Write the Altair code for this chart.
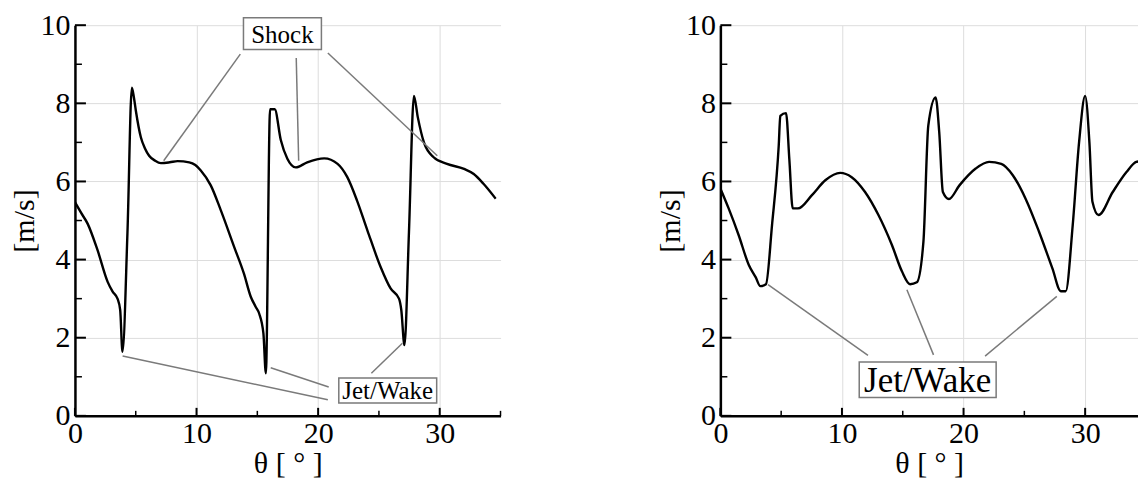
import altair as alt
import pandas as pd

# ---- left panel curve ----
L_THETA = [0, 0.5, 1.04, 1.86, 2.69, 3.1, 3.5, 3.72, 3.91, 4.32, 4.68, 4.85, 5.01, 5.42,
           5.75, 6.1, 6.6, 7.07, 7.8, 8.44, 9.4, 9.9, 10.35, 11.17, 12.0, 13.1, 13.9,
           14.46, 14.85, 15.15, 15.5, 15.7, 16.05, 16.43, 16.93, 17.47, 18.16, 19.1,
           20.5, 21.6, 22.4, 23.2, 24.05, 25.14, 25.96, 26.65, 26.84, 27.1, 27.47,
           27.88, 28.2, 28.7, 29.5, 30.6, 32.0, 32.8, 33.6, 34.6]
L_V = [5.47, 5.2, 4.92, 4.24, 3.43, 3.18, 3.0, 2.71, 1.64, 4.7, 8.40, 8.15, 7.81, 7.13,
       6.85, 6.66, 6.53, 6.47, 6.49, 6.52, 6.49, 6.42, 6.28, 5.9, 5.26, 4.32, 3.64,
       3.05, 2.8, 2.62, 2.11, 1.09, 7.85, 7.85, 7.06, 6.58, 6.36, 6.49,
       6.59, 6.45, 6.11, 5.51, 4.75, 3.81, 3.26, 3.0, 2.71, 1.81, 4.7,
       8.19, 7.64, 7.0, 6.62, 6.45, 6.32, 6.19, 5.94, 5.56]

# ---- right panel curve ----
R_THETA = [0, 0.68, 1.5, 2.33, 2.9, 3.29, 3.75, 4.25, 4.8, 4.93, 5.4, 5.67, 5.95, 6.38,
           7.53, 8.63, 9.86, 10.8, 11.9, 13.0, 14.1, 14.93, 15.6, 16.16, 16.7, 17.1,
           17.7, 18.0, 18.3, 18.8, 19.66, 21.0, 22.1, 23.1, 24.05, 25.1, 26.2, 27.3,
           28.0, 28.4, 28.98, 29.5, 30.0, 30.35, 30.6, 31.1, 32.27, 33.4, 34.2, 35.0]
R_V = [5.82, 5.31, 4.63, 3.87, 3.55, 3.32, 3.37, 4.89, 6.92, 7.68, 7.75, 6.58, 5.31, 5.31,
       5.65, 6.03, 6.22, 6.11, 5.73, 5.14, 4.38, 3.7, 3.37, 3.42, 4.46, 7.43,
       8.15, 7.26, 5.73, 5.55, 5.9, 6.33, 6.5, 6.45, 6.16, 5.56, 4.72, 3.78,
       3.19, 3.19, 4.89, 7.0, 8.19, 7.0, 5.48, 5.14, 5.73, 6.24, 6.5, 6.54]

# ---- axis ticks ----
X_MAJOR = [0, 10, 20, 30]
X_MINOR = [5, 15, 25, 35]
Y_MAJOR = [0, 2, 4, 6, 8, 10]
Y_MINOR = [1, 3, 5, 7, 9]

# ---- annotations (data coordinates) ----
L_SHOCK_X1 = [13.6, 18.2, 20.8]
L_SHOCK_Y1 = [9.26, 9.16, 9.29]
L_SHOCK_X2 = [7.3, 18.4, 29.8]
L_SHOCK_Y2 = [6.53, 6.53, 6.66]
L_JET_X1 = [3.92, 16.1, 26.93]
L_JET_Y1 = [1.53, 1.23, 1.86]
L_JET_X2 = [20.8, 20.87, 24.38]
L_JET_Y2 = [0.41, 0.74, 1.09]
R_JET_X1 = [3.92, 15.34, 27.67]
R_JET_Y1 = [3.36, 3.23, 3.06]
R_JET_X2 = [12.14, 17.53, 21.77]
R_JET_Y2 = [1.55, 1.56, 1.53]

L_BOX_LABELS = ["Shock", "Jet/Wake"]
L_BOX_X = [13.86, 21.7]
L_BOX_X2 = [20.27, 29.75]
L_BOX_Y = [9.38, 0.33]
L_BOX_Y2 = [10.19, 0.97]
R_BOX_LABELS = ["Jet/Wake"]
R_BOX_X = [11.42]
R_BOX_X2 = [22.68]
R_BOX_Y = [0.47]
R_BOX_Y2 = [1.38]

PX_PER_DEG = 12.17
WL, WR, H = 426, 418, 391
FONT = "Liberation Serif, Times New Roman, DejaVu Serif, serif"
ys = alt.Scale(domain=[0, 10], nice=False)

XAXIS = alt.Axis(
    values=X_MAJOR, title="θ [ ° ]", grid=True, ticks=False,
    labelFont=FONT, labelFontSize=30, labelPadding=3, labelFlush=False,
    labelColor="black", titleFont=FONT, titleFontSize=30,
    titleFontWeight="normal", titleColor="black", titlePadding=0,
    domainColor="black", domainWidth=2.5, gridColor="#dddddd", format="d")
YAXIS = alt.Axis(
    values=Y_MAJOR, title="[m/s]", grid=True, ticks=False,
    labelFont=FONT, labelFontSize=30, labelPadding=5, labelFlush=False,
    labelColor="black", titleFont=FONT, titleFontSize=30,
    titleFontWeight="normal", titleColor="black", titlePadding=0,
    domainColor="black", domainWidth=2.5, gridColor="#dddddd", format="d")


def panel(theta, v, lx1, ly1, lx2, ly2, labels, bx, bx2, by, by2, fsize, width):
    xs = alt.Scale(domain=[0, width / PX_PER_DEG], nice=False, zero=False)

    def X(f):
        return alt.X(f, type="quantitative", scale=xs, axis=XAXIS)

    def Y(f):
        return alt.Y(f, type="quantitative", scale=ys, axis=YAXIS)

    curve = pd.DataFrame({"t": theta, "v": v, "i": range(len(theta))})
    base_line = alt.Chart(curve).mark_line(color="black", strokeWidth=2.4,
                                           interpolate="monotone", clip=True).encode(
        x=X("t"), y=Y("v"), order="i:Q")
    xmaj = [t for t in X_MAJOR if t <= width / PX_PER_DEG]
    xmin = [t for t in X_MINOR if t <= width / PX_PER_DEG + 0.01]
    xt_major = alt.Chart(pd.DataFrame({"t": xmaj})).mark_rule(
        color="black", strokeWidth=2).encode(
        x=X("t"), y=alt.value(H), y2=alt.value(H - 8))
    xt_minor = alt.Chart(pd.DataFrame({"t": xmin})).mark_rule(
        color="black", strokeWidth=1.5).encode(
        x=X("t"), y=alt.value(H), y2=alt.value(H - 5))
    yt_major = alt.Chart(pd.DataFrame({"v": Y_MAJOR})).mark_rule(
        color="black", strokeWidth=2).encode(
        y=Y("v"), x=alt.value(0), x2=alt.value(11))
    yt_minor = alt.Chart(pd.DataFrame({"v": Y_MINOR})).mark_rule(
        color="black", strokeWidth=1.5).encode(
        y=Y("v"), x=alt.value(0), x2=alt.value(7))
    leaders = alt.Chart(pd.DataFrame({"x1": lx1, "y1": ly1, "x2": lx2, "y2": ly2})).mark_rule(
        color="#7a7a7a", strokeWidth=1.5).encode(
        x=X("x1"), y=Y("y1"), x2="x2:Q", y2="y2:Q")
    boxdf = pd.DataFrame({"lab": labels, "x": bx, "x2": bx2, "y": by, "y2": by2})
    boxdf["cx"] = (boxdf["x"] + boxdf["x2"]) / 2
    boxdf["cy"] = (boxdf["y"] + boxdf["y2"]) / 2
    boxes = alt.Chart(boxdf).mark_rect(fill="white", stroke="#7a7a7a",
                                       strokeWidth=1.5).encode(
        x=X("x"), x2="x2:Q", y=Y("y"), y2="y2:Q")
    texts = alt.Chart(boxdf).mark_text(font=FONT, fontSize=fsize, color="black",
                                       baseline="middle", align="center", dy=1).encode(
        x=X("cx"), y=Y("cy"), text="lab:N")
    return alt.layer(base_line, xt_major, xt_minor, yt_major, yt_minor,
                     leaders, boxes, texts).properties(width=width, height=H)


left = panel(L_THETA, L_V, L_SHOCK_X1 + L_JET_X1, L_SHOCK_Y1 + L_JET_Y1,
             L_SHOCK_X2 + L_JET_X2, L_SHOCK_Y2 + L_JET_Y2,
             L_BOX_LABELS, L_BOX_X, L_BOX_X2, L_BOX_Y, L_BOX_Y2, 25, WL)
right = panel(R_THETA, R_V, R_JET_X1, R_JET_Y1, R_JET_X2, R_JET_Y2,
              R_BOX_LABELS, R_BOX_X, R_BOX_X2, R_BOX_Y, R_BOX_Y2, 35, WR)

chart = alt.hconcat(left, right, spacing=154).configure_view(
    stroke=None).properties(padding={"left": 2, "top": 2, "right": 0, "bottom": 0})

chart.save("out.html", embed_options={"renderer": "svg", "actions": False})
